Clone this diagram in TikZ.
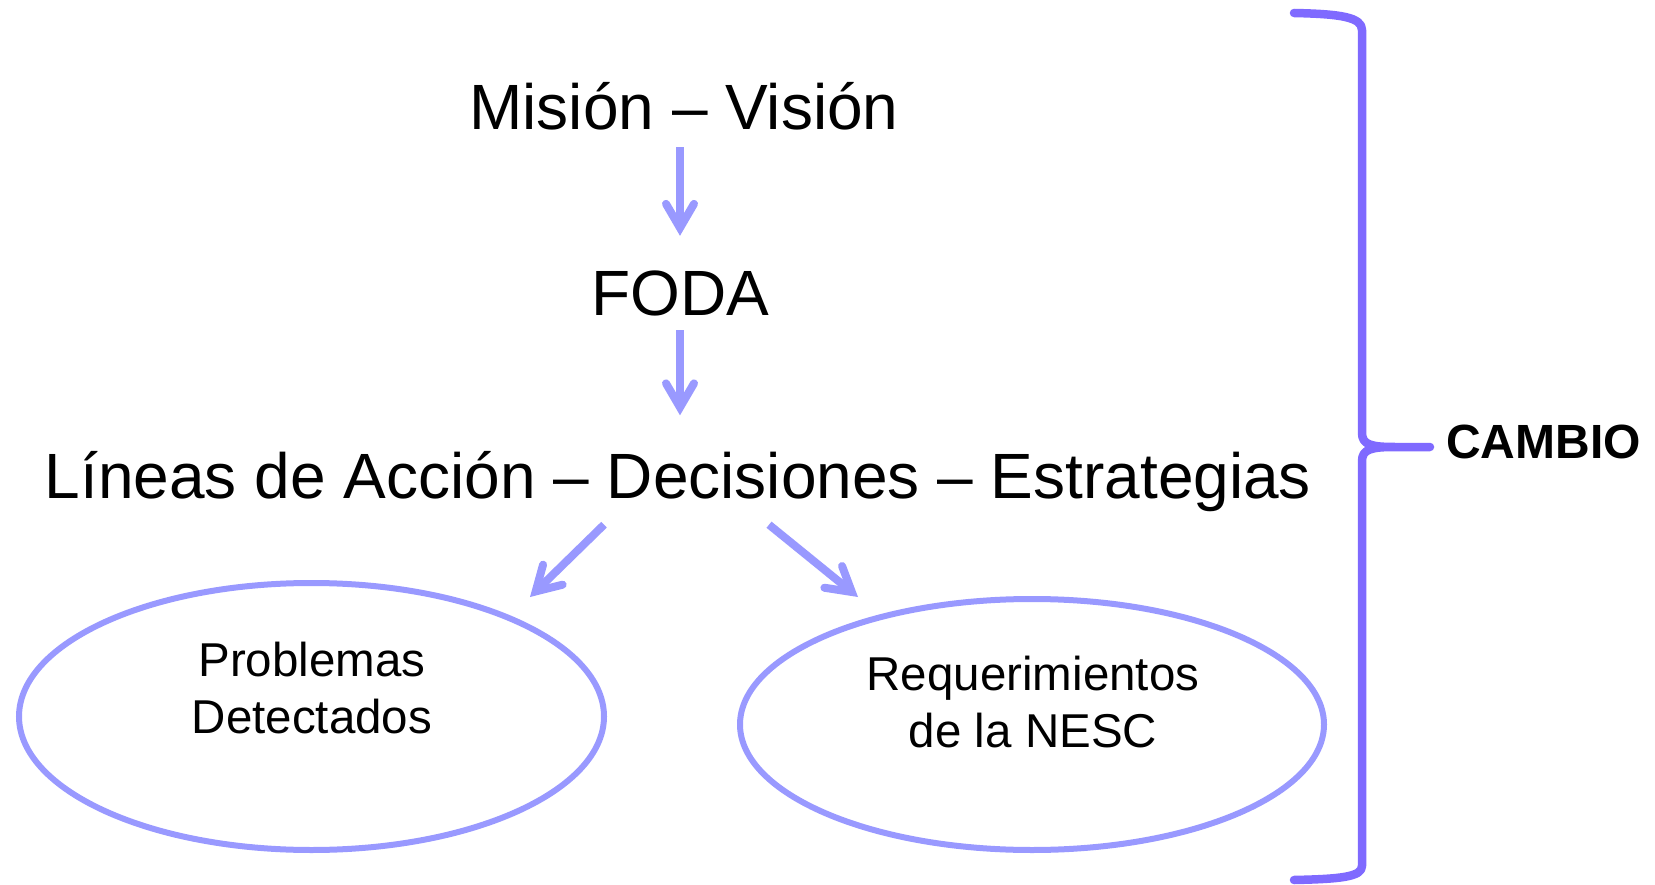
\documentclass[tikz,border=0pt]{standalone}
\usepackage{fontspec}
\setmainfont{Liberation Sans}
\usetikzlibrary{arrows.meta,shapes.geometric,positioning,calc}
\definecolor{arrowblue}{RGB}{153,153,255}
\definecolor{bracecol}{RGB}{127,106,255}

\begin{document}
\begin{tikzpicture}[x=1pt,y=-1pt,
    big/.style={font=\fontsize{64}{77}\selectfont,inner sep=0pt,text height=45pt,text depth=0pt},
    small/.style={font=\fontsize{47.5}{57}\selectfont,inner sep=0pt,align=center},
    ellip/.style={ellipse,draw=arrowblue,line width=6pt,inner sep=0pt},
    arr/.style={draw=arrowblue,line width=8pt,
        -{Straight Barb[length=24pt,width=28pt,line cap=round,line join=miter]}}]
    \useasboundingbox (0,0) rectangle (1655,885);

    \node[big] (mision) at (684,107.5) {Misión – Visión};
    \node[big] (foda) at (680,293.5) {FODA};
    \node[big] (lineas) at (678,476) {Líneas de Acción – Decisiones – Estrategias};

    \node[ellip,minimum width=585pt,minimum height=267pt] (prob) at (311.5,716.5) {};
    \node[ellip,minimum width=584pt,minimum height=251pt] (req) at (1032,724.5) {};
    \node[small] (probtxt) at (312,688) {Problemas\\Detectados};
    \node[small] (reqtxt) at (1033,702.5) {Requerimientos\\de la NESC};

    \draw[arr,shorten <=17pt,shorten >=35pt] (mision.south -| foda.north) -- (foda.north);
    \draw[arr,shorten <=14pt,shorten >=38pt] (foda.south) -- (foda.south |- lineas.north);
    \draw[arr] ($(lineas.south)+(-74,26)$) -- ($(prob.north)+(218.5,17)$);
    \draw[arr] ($(lineas.south)+(91,26)$) -- ($(req.north)+(-174,1)$);

    % llave
    \draw[bracecol,line width=8.5pt,line cap=round,line join=round]
        (1294,13) .. controls (1340,14) and (1362,17) .. (1362,30)
        -- (1362,433) .. controls (1362,445) and (1372,447) .. (1395,447)
        coordinate (cusp) -- (1430,447) -- (1395,447)
        .. controls (1372,447) and (1362,449) .. (1362,461)
        -- (1362,866) .. controls (1362,877) and (1340,879) .. (1294,880);
    \node[font=\fontsize{48}{58}\selectfont\bfseries,inner sep=0pt,anchor=west,
        text height=34pt,text depth=0pt] (cambio) at (1446,441) {CAMBIO};
\end{tikzpicture}
\end{document}
